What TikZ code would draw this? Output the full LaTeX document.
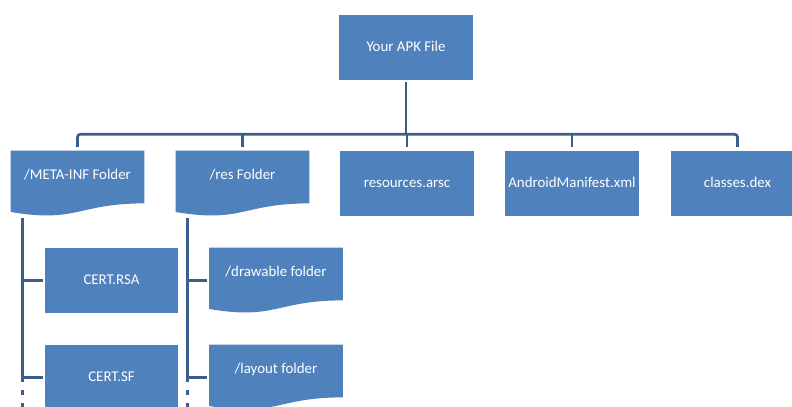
\documentclass[tikz,border=0pt]{standalone}
\usepackage{fontspec}
\setmainfont{Carlito}
\usepackage{tikz}
\usetikzlibrary{calc,backgrounds}
\definecolor{boxblue}{RGB}{79,129,189}
\definecolor{lineblue}{RGB}{59,94,140}

\begin{document}
\begin{tikzpicture}[x=0.025cm,y=0.025cm]
  \tikzstyle{box}=[rectangle,fill=boxblue,text=white,font=\fontsize{10.6}{12}\selectfont,minimum width=3.325cm,minimum height=1.625cm,inner sep=0pt,text height=7pt,text depth=2pt]
  \tikzstyle{doc}=[box,fill=none,text depth=12.7pt]
  \tikzstyle{link}=[draw=lineblue,line width=1.9pt]
  \clip (0,0) rectangle (792,407);
  % top
  \node[box] (apk) at (406,359.5) {Your APK File};
  % second row
  \node[doc] (meta) at (77.5,223.5) {/META-INF Folder};
  \node[doc] (res) at (242.5,223.5) {/res Folder};
  \node[box] (arsc) at (407,223.5) {resources.arsc};
  \node[box] (mani) at (572,223.5) {AndroidManifest.xml};
  \node[box] (dex) at (737.5,223.5) {classes.dex};
  % children
  \node[box] (rsa) at (111.5,126.5) {CERT.RSA};
  \node[doc] (drw) at (276,126.5) {/drawable folder};
  \node[box] (sf) at (111.5,29.5) {CERT.SF};
  \node[doc] (lay) at (276,29.5) {/layout folder};
  % wavy bottoms
  \begin{scope}[on background layer]
    \foreach \n in {meta,res,drw,lay}
      \fill[boxblue] (\n.north west) -- (\n.north east) -- ($(\n.south east)+(0,12.9)$)
        .. controls ($(\n.south)+(0,12.9)$) and ($(\n.south)+(0,-7)$) .. ($(\n.south west)+(0,4.3)$) -- cycle;
  \end{scope}
  % tree lines
  \coordinate (bar) at ($(apk.south)+(0,-54)$);
  \draw[link,shorten <=1.4pt] (apk) -- (bar);
  \draw[link,rounded corners=2,shorten <=2.8pt,shorten >=2.8pt] (meta.north) |- (bar) -| (dex.north);
  \foreach \n in {res,arsc,mani}
    \draw[link,shorten >=2.8pt] (\n.north |- bar) -- (\n.north);
  \coordinate (mt) at ($(meta.south west)+(12,-2)$);
  \coordinate (rt) at ($(res.south west)+(12,-2)$);
  \draw[link,shorten >=1.4pt] (mt) |- (rsa);
  \draw[link,shorten >=1.4pt] (mt) |- (sf);
  \draw[link,shorten >=1.4pt] (rt) |- (drw);
  \draw[link,shorten >=1.4pt] (rt) |- (lay);
  \draw[link,dash pattern=on 0.12cm off 0.2cm] (mt |- sf.west) -- ++(0,-40);
  \draw[link,dash pattern=on 0.12cm off 0.2cm] (rt |- lay.west) -- ++(0,-40);
\end{tikzpicture}
\end{document}
